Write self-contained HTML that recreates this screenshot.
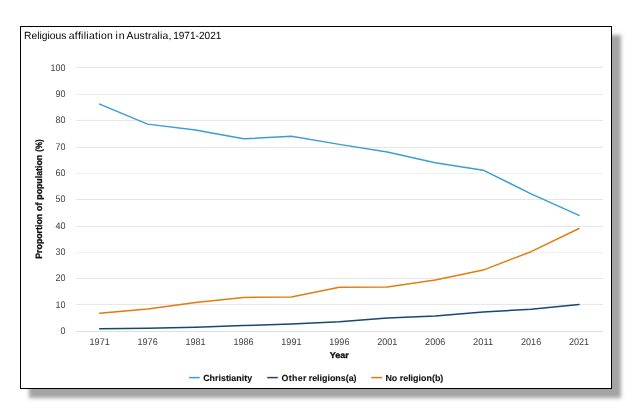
<!DOCTYPE html>
<html><head><meta charset="utf-8"><title>Religious affiliation in Australia, 1971-2021</title>
<style>
html,body{margin:0;padding:0;background:#fff;}
body{width:634px;height:415px;overflow:hidden;position:relative;font-family:"Liberation Sans",sans-serif;}
#frame{position:absolute;left:20px;top:26px;width:590px;height:361px;border:1px solid #000;background:#fff;box-shadow:9px 9px 3.8px #a4a4a4;}
svg{position:absolute;left:0;top:0;will-change:transform;}
text{font-family:"Liberation Sans",sans-serif;text-rendering:geometricPrecision;}
.tick{font-size:9.6px;fill:#404040;}
.b{font-size:8.85px;font-weight:bold;fill:#111;}
</style></head><body>
<div id="frame"></div>
<svg width="634" height="415" viewBox="0 0 634 415">
<text  x="23.98" y="38.75" font-size="10.4" font-weight="normal" textLength="42.47" lengthAdjust="spacingAndGlyphs" fill="#000">Religious</text>
<text  x="68.77" y="38.75" font-size="10.4" font-weight="normal" textLength="44.06" lengthAdjust="spacing" fill="#000">affiliation</text>
<text  x="115.56" y="38.75" font-size="10.4" font-weight="normal" textLength="8.89" lengthAdjust="spacing" fill="#000">in</text>
<text  x="126.55" y="38.75" font-size="10.4" font-weight="normal" textLength="44.79" lengthAdjust="spacing" fill="#000">Australia,</text>
<text  x="173.15" y="38.75" font-size="10.4" font-weight="normal" textLength="48.21" lengthAdjust="spacingAndGlyphs" fill="#000">1971-2021</text>
<rect x="75.7" y="303.92" width="527.3" height="1" fill="#e6e6e6"/>
<rect x="75.7" y="277.92" width="527.3" height="1" fill="#e6e6e6"/>
<rect x="75.7" y="251.92" width="527.3" height="1" fill="#efefef"/>
<rect x="75.7" y="225.92" width="527.3" height="1" fill="#e6e6e6"/>
<rect x="75.7" y="198.92" width="527.3" height="1" fill="#e6e6e6"/>
<rect x="75.7" y="172.92" width="527.3" height="1" fill="#efefef"/>
<rect x="75.7" y="146.92" width="527.3" height="1" fill="#e6e6e6"/>
<rect x="75.7" y="119.92" width="527.3" height="1" fill="#e6e6e6"/>
<rect x="75.7" y="93.92" width="527.3" height="1" fill="#eaeaea"/>
<rect x="75.7" y="66.92" width="527.3" height="1" fill="#e6e6e6"/>
<rect x="75.7" y="330.92" width="527.3" height="1" fill="#d6ddef"/>
<text class="tick" x="65.5" y="333.80" text-anchor="end" textLength="5.00" lengthAdjust="spacingAndGlyphs">0</text>
<text class="tick" x="65.5" y="307.50" text-anchor="end" textLength="10.00" lengthAdjust="spacingAndGlyphs">10</text>
<text class="tick" x="65.5" y="281.20" text-anchor="end" textLength="10.00" lengthAdjust="spacingAndGlyphs">20</text>
<text class="tick" x="65.5" y="254.90" text-anchor="end" textLength="10.00" lengthAdjust="spacingAndGlyphs">30</text>
<text class="tick" x="65.5" y="228.60" text-anchor="end" textLength="10.00" lengthAdjust="spacingAndGlyphs">40</text>
<text class="tick" x="65.5" y="202.30" text-anchor="end" textLength="10.00" lengthAdjust="spacingAndGlyphs">50</text>
<text class="tick" x="65.5" y="176.00" text-anchor="end" textLength="10.00" lengthAdjust="spacingAndGlyphs">60</text>
<text class="tick" x="65.5" y="149.70" text-anchor="end" textLength="10.00" lengthAdjust="spacingAndGlyphs">70</text>
<text class="tick" x="65.5" y="123.40" text-anchor="end" textLength="10.00" lengthAdjust="spacingAndGlyphs">80</text>
<text class="tick" x="65.5" y="97.10" text-anchor="end" textLength="10.00" lengthAdjust="spacingAndGlyphs">90</text>
<text class="tick" x="65.5" y="70.80" text-anchor="end" textLength="15.00" lengthAdjust="spacingAndGlyphs">100</text>
<text class="tick" x="99.67" y="344.9" text-anchor="middle" textLength="20.20" lengthAdjust="spacingAndGlyphs">1971</text>
<text class="tick" x="147.60" y="344.9" text-anchor="middle" textLength="20.20" lengthAdjust="spacingAndGlyphs">1976</text>
<text class="tick" x="195.54" y="344.9" text-anchor="middle" textLength="20.20" lengthAdjust="spacingAndGlyphs">1981</text>
<text class="tick" x="243.48" y="344.9" text-anchor="middle" textLength="20.20" lengthAdjust="spacingAndGlyphs">1986</text>
<text class="tick" x="291.41" y="344.9" text-anchor="middle" textLength="20.20" lengthAdjust="spacingAndGlyphs">1991</text>
<text class="tick" x="339.35" y="344.9" text-anchor="middle" textLength="20.20" lengthAdjust="spacingAndGlyphs">1996</text>
<text class="tick" x="387.29" y="344.9" text-anchor="middle" textLength="20.20" lengthAdjust="spacingAndGlyphs">2001</text>
<text class="tick" x="435.22" y="344.9" text-anchor="middle" textLength="20.20" lengthAdjust="spacingAndGlyphs">2006</text>
<text class="tick" x="483.16" y="344.9" text-anchor="middle" textLength="20.20" lengthAdjust="spacingAndGlyphs">2011</text>
<text class="tick" x="531.10" y="344.9" text-anchor="middle" textLength="20.20" lengthAdjust="spacingAndGlyphs">2016</text>
<text class="tick" x="579.03" y="344.9" text-anchor="middle" textLength="20.20" lengthAdjust="spacingAndGlyphs">2021</text>
<text  x="329.8" y="357.6" font-size="8.4" font-weight="bold" textLength="19.0" lengthAdjust="spacingAndGlyphs" fill="#111" stroke="#111" stroke-width="0.3">Year</text>
<g transform="translate(41.6 258.2) rotate(-90)">
<text  x="-0.55" y="0" font-size="9.2" font-weight="bold" textLength="44.86" lengthAdjust="spacingAndGlyphs" fill="#111" stroke="#111" stroke-width="0.3">Proportion</text>
<text  x="46.85" y="0" font-size="9.2" font-weight="bold" textLength="8.94" lengthAdjust="spacing" fill="#111" stroke="#111" stroke-width="0.3">of</text>
<text  x="58.52" y="0" font-size="9.2" font-weight="bold" textLength="44.78" lengthAdjust="spacingAndGlyphs" fill="#111" stroke="#111" stroke-width="0.3">population</text>
<text  x="106.48" y="0" font-size="9.2" font-weight="bold" textLength="12.3" lengthAdjust="spacingAndGlyphs" fill="#111" stroke="#111" stroke-width="0.3">(%)</text>
</g>
<path d="M99.67 104.14 L147.60 124.13 L195.54 129.92 L243.48 138.86 L291.41 136.23 L339.35 144.38 L387.29 152.01 L435.22 162.79 L483.16 170.16 L531.10 193.83 L579.03 215.39" fill="none" stroke="#3d9dd3" stroke-width="1.5" stroke-linejoin="round" stroke-linecap="round"/>
<path d="M99.67 328.75 L147.60 328.22 L195.54 327.17 L243.48 325.59 L291.41 324.01 L339.35 321.65 L387.29 317.96 L435.22 316.12 L483.16 311.91 L531.10 309.28 L579.03 304.55" fill="none" stroke="#164872" stroke-width="1.5" stroke-linejoin="round" stroke-linecap="round"/>
<path d="M99.67 313.23 L147.60 309.02 L195.54 302.45 L243.48 297.45 L291.41 296.92 L339.35 287.19 L387.29 286.93 L435.22 280.09 L483.16 270.10 L531.10 251.69 L579.03 228.54" fill="none" stroke="#e27c10" stroke-width="1.5" stroke-linejoin="round" stroke-linecap="round"/>
<line x1="189.1" x2="199.7" y1="377.6" y2="377.6" stroke="#3d9dd3" stroke-width="1.5"/>
<text  x="203.16" y="380.7" font-size="8.8" font-weight="bold" textLength="48.98" lengthAdjust="spacingAndGlyphs" fill="#111" stroke="#111" stroke-width="0.1">Christianity</text>
<line x1="267.2" x2="277.8" y1="377.6" y2="377.6" stroke="#164872" stroke-width="1.5"/>
<text  x="281.57" y="380.7" font-size="8.8" font-weight="bold" textLength="24.84" lengthAdjust="spacing" fill="#111" stroke="#111" stroke-width="0.1">Other</text>
<text  x="308.72" y="380.7" font-size="8.8" font-weight="bold" textLength="47.85" lengthAdjust="spacingAndGlyphs" fill="#111" stroke="#111" stroke-width="0.1">religions(a)</text>
<line x1="371.3" x2="382.0" y1="377.6" y2="377.6" stroke="#e27c10" stroke-width="1.5"/>
<text  x="385.44" y="380.7" font-size="8.8" font-weight="bold" textLength="11.8" lengthAdjust="spacingAndGlyphs" fill="#111" stroke="#111" stroke-width="0.1">No</text>
<text  x="399.72" y="380.7" font-size="8.8" font-weight="bold" textLength="43.6" lengthAdjust="spacingAndGlyphs" fill="#111" stroke="#111" stroke-width="0.1">religion(b)</text>
</svg></body></html>
